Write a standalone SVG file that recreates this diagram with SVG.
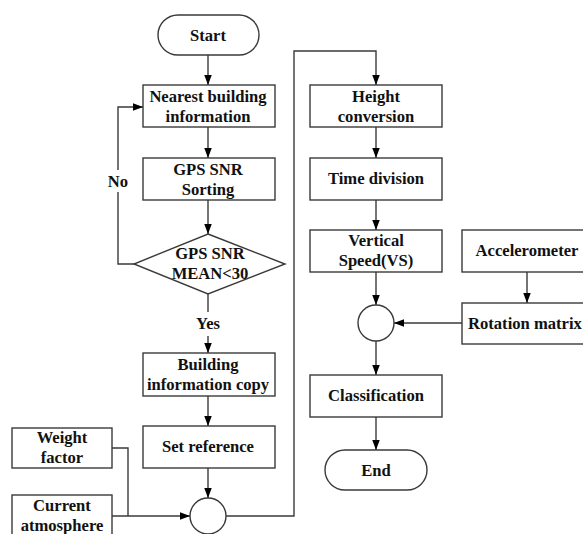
<svg xmlns="http://www.w3.org/2000/svg" width="583" height="534" viewBox="0 0 583 534">
<style>
.box{fill:#fff;stroke:#3a3a3a;stroke-width:1.4}
.ln{fill:none;stroke:#3a3a3a;stroke-width:1.4}
.t{font-family:"Liberation Serif","Times New Roman",serif;font-weight:bold;font-size:16.6px;fill:#111;text-anchor:middle}
</style>
<defs>
<marker id="ah" markerUnits="userSpaceOnUse" markerWidth="10" markerHeight="12" refX="12" refY="4.5" viewBox="0 0 12 9" orient="auto">
<path d="M0,0 L12,4.5 L0,9 Z" fill="#000"/>
</marker>
</defs>
<rect width="583" height="534" fill="#fff"/>
<g id="connectors">
<line class="ln" x1="208" y1="55" x2="208" y2="85" marker-end="url(#ah)"/>
<line class="ln" x1="208" y1="127" x2="208" y2="158" marker-end="url(#ah)"/>
<line class="ln" x1="208" y1="200" x2="208" y2="234" marker-end="url(#ah)"/>
<polyline class="ln" points="134,264 118,264 118,107 143,107" marker-end="url(#ah)"/>
<line class="ln" x1="208" y1="294" x2="208" y2="312"/>
<line class="ln" x1="208" y1="336" x2="208" y2="353" marker-end="url(#ah)"/>
<line class="ln" x1="208" y1="396" x2="208" y2="426" marker-end="url(#ah)"/>
<line class="ln" x1="208" y1="468" x2="208" y2="498" marker-end="url(#ah)"/>
<polyline class="ln" points="112,448 128,448 128,516"/>
<line class="ln" x1="112" y1="516" x2="190" y2="516" marker-end="url(#ah)"/>
<polyline class="ln" points="226,516 294,516 294,51 376,51 376,85" marker-end="url(#ah)"/>
<line class="ln" x1="376" y1="127" x2="376" y2="158" marker-end="url(#ah)"/>
<line class="ln" x1="376" y1="200" x2="376" y2="230" marker-end="url(#ah)"/>
<line class="ln" x1="376" y1="272" x2="376" y2="305" marker-end="url(#ah)"/>
<line class="ln" x1="527" y1="272" x2="527" y2="303" marker-end="url(#ah)"/>
<line class="ln" x1="462" y1="323" x2="394" y2="323" marker-end="url(#ah)"/>
<line class="ln" x1="376" y1="341" x2="376" y2="375" marker-end="url(#ah)"/>
<line class="ln" x1="376" y1="417" x2="376" y2="450" marker-end="url(#ah)"/>
<rect x="106" y="170" width="24" height="22" fill="#fff"/>
<text class="t" x="118" y="187">No</text>
<text class="t" x="208" y="329">Yes</text>
</g>
<g id="start"><rect class="box" x="158" y="15" width="101" height="40" rx="20"/><text class="t" x="208" y="41">Start</text></g>
<g id="nearest"><rect class="box" x="143" y="85" width="132" height="42"/><text class="t" x="208" y="102">Nearest building</text><text class="t" x="208" y="122">information</text></g>
<g id="sorting"><rect class="box" x="143" y="158" width="132" height="42"/><text class="t" x="208" y="175">GPS SNR</text><text class="t" x="208" y="195">Sorting</text></g>
<g id="decision"><polygon class="box" points="208,234 285,264 208,294 134,264"/><text class="t" x="210" y="259">GPS SNR</text><text class="t" x="210" y="279">MEAN&lt;30</text></g>
<g id="copy"><rect class="box" x="143" y="353" width="132" height="43"/><text class="t" x="208" y="370">Building</text><text class="t" x="208" y="390">information copy</text></g>
<g id="setref"><rect class="box" x="143" y="426" width="132" height="42"/><text class="t" x="208" y="452">Set reference</text></g>
<g id="weight"><rect class="box" x="12" y="428" width="100" height="40"/><text class="t" x="62" y="443">Weight</text><text class="t" x="62" y="463">factor</text></g>
<g id="atmos"><rect class="box" x="12" y="495" width="100" height="50"/><text class="t" x="62" y="511">Current</text><text class="t" x="62" y="531">atmosphere</text></g>
<g id="sum1"><circle class="box" cx="208" cy="516" r="18"/></g>
<g id="height"><rect class="box" x="310" y="85" width="132" height="42"/><text class="t" x="376" y="102">Height</text><text class="t" x="376" y="122">conversion</text></g>
<g id="timediv"><rect class="box" x="310" y="158" width="132" height="42"/><text class="t" x="376" y="184">Time division</text></g>
<g id="vs"><rect class="box" x="310" y="230" width="132" height="42"/><text class="t" x="376" y="246">Vertical</text><text class="t" x="376" y="266">Speed(VS)</text></g>
<g id="accel"><rect class="box" x="462" y="230" width="140" height="42"/><text class="t" x="527" y="256">Accelerometer</text></g>
<g id="rotation"><rect class="box" x="462" y="303" width="140" height="41"/><text class="t" x="468" y="329" style="text-anchor:start">Rotation matrix</text></g>
<g id="sum2"><circle class="box" cx="376" cy="323" r="18"/></g>
<g id="classif"><rect class="box" x="310" y="375" width="132" height="42"/><text class="t" x="376" y="401">Classification</text></g>
<g id="end"><rect class="box" x="325" y="450" width="102" height="40" rx="20"/><text class="t" x="376" y="476">End</text></g>
</svg>
